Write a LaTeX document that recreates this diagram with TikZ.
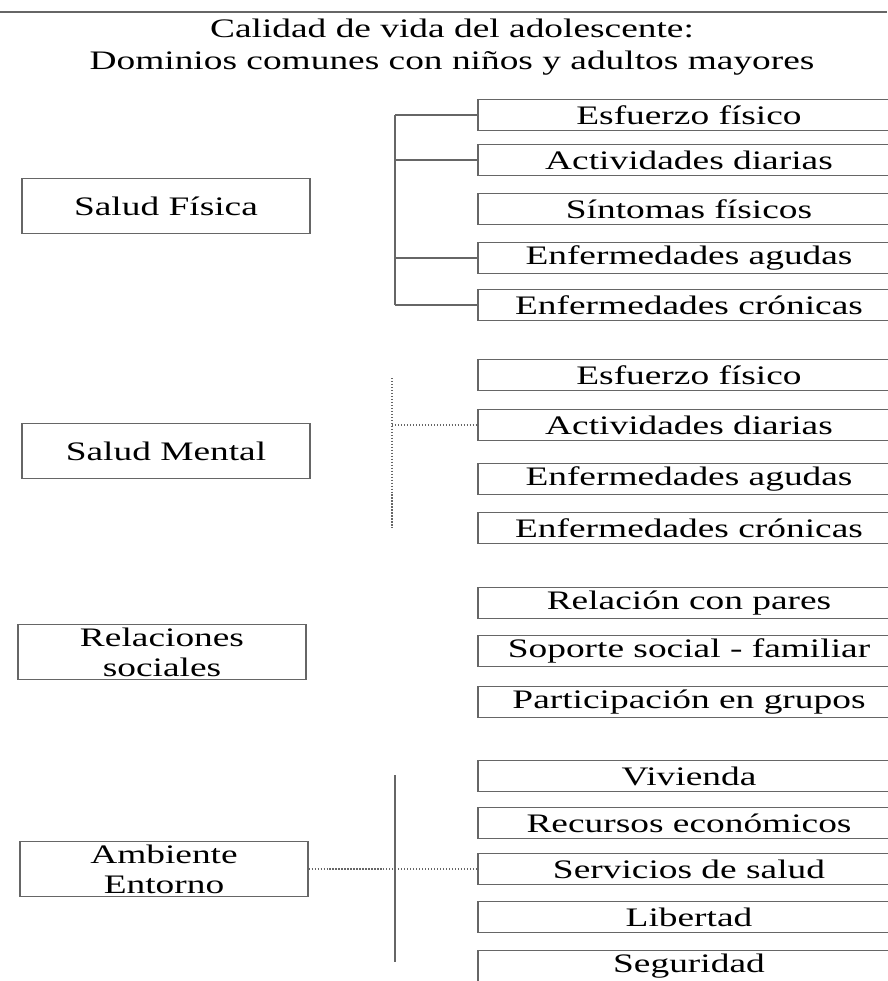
\documentclass[tikz,border=0pt]{standalone}
\usepackage{fontspec}
\setmainfont{Liberation Serif}[FakeStretch=1.4]

\begin{document}
\begin{tikzpicture}[x=0.02cm, y=-0.02cm,
    itembox/.style={draw=black!60, line width=0.7pt, minimum width=8.44cm, minimum height=0.62cm,
        inner sep=0pt, font=\fontsize{15.2}{18}\selectfont},
    areabox/.style={draw=black!60, line width=0.7pt, minimum width=5.76cm, minimum height=1.1cm,
        inner sep=0pt, align=center, font=\fontsize{15.2}{17}\selectfont},
    link/.style={black!60, line width=0.7pt}]
    \useasboundingbox (0,0) rectangle (887,981);

    % Frame line at the top
    \draw[link] (0,12) -- (887,12);

    % Title
    \node (title) at (452,47) [align=center, font=\fontsize{15.2}{18.2}\selectfont]
        {Calidad de vida del adolescente:\\Dominios comunes con niños y adultos mayores};

    % Domains on the left
    \node[areabox] (fis) at (166,206) {Salud Física};
    \node[areabox] (men) at (166,451) {Salud Mental};
    \node[areabox] (soc) at (162,652) {Relaciones\\sociales};
    \node[areabox] (amb) at (164,869) {Ambiente\\Entorno};

    % Salud Física items (right side runs off the page)
    \node[itembox] (f1) at (689,115) {Esfuerzo físico};
    \node[itembox] (f2) at (689,160) {Actividades diarias};
    \node[itembox] (f3) at (689,209) {Síntomas físicos};
    \node[itembox] (f4) at (689,258) {Enfermedades agudas};
    \node[itembox] (f5) at (689,305) {Enfermedades crónicas};

    % Salud Mental items
    \node[itembox] (m1) at (689,375) {Esfuerzo físico};
    \node[itembox] (m2) at (689,425) {Actividades diarias};
    \node[itembox] (m3) at (689,479) {Enfermedades agudas};
    \node[itembox] (m4) at (689,528) {Enfermedades crónicas};

    % Relaciones sociales items
    \node[itembox] (s1) at (689,603) {Relación con pares};
    \node[itembox] (s2) at (689,651) {Soporte social - familiar};
    \node[itembox] (s3) at (689,702) {Participación en grupos};

    % Ambiente items
    \node[itembox] (e1) at (689,776) {Vivienda};
    \node[itembox] (e2) at (689,823) {Recursos económicos};
    \node[itembox] (e3) at (689,869) {Servicios de salud};
    \node[itembox] (e4) at (689,917) {Libertad};
    \node[itembox] (e5) at (689,966) {Seguridad};

    % Bracket for Salud Física
    \coordinate (fisTop) at (395,115);
    \coordinate (fisBot) at (395,305);
    \draw[link] (fisTop) -- (fisBot);
    \draw[link] (fisTop) -- (f1.west);
    \draw[link] (fisTop |- f2) -- (f2.west);
    \draw[link] (fisTop |- f4) -- (f4.west);
    \draw[link] (fisBot) -- (f5.west);

    % Bracket for Salud Mental
    \coordinate (menTop) at (392,378);
    \coordinate (menBot) at (392,528);
    \draw[link, densely dotted] (menTop) -- (menBot);
    \draw[link, densely dotted] (menTop |- m2) -- (m2.west);

    % Bracket for Ambiente
    \coordinate (ambTop) at (395,775);
    \coordinate (ambBot) at (395,962);
    \draw[link] (ambTop) -- (ambBot);
    \draw[link, densely dotted] (amb.east) -- (e3.west);
\end{tikzpicture}
\end{document}
